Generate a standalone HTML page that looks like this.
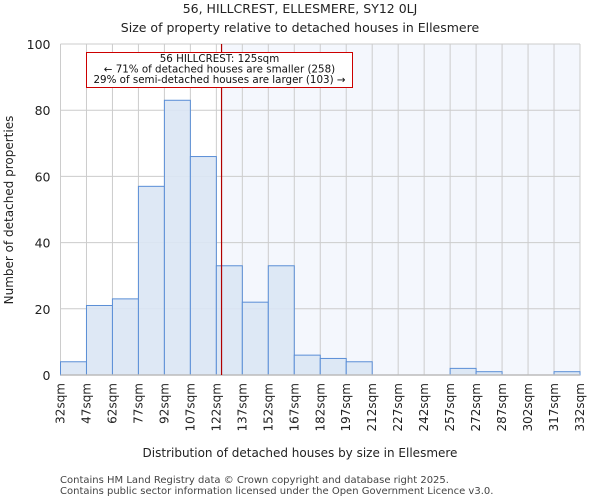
<!DOCTYPE html>
<html><head><meta charset="utf-8"><style>
body{margin:0;background:#fff;font-family:"DejaVu Sans","Liberation Sans",sans-serif;}
</style></head><body>
<svg id="chart" width="600" height="500" xmlns="http://www.w3.org/2000/svg" font-family="DejaVu Sans, Liberation Sans, sans-serif">
<text x="300" y="13" text-anchor="middle" font-size="12.5" fill="#222">56, HILLCREST, ELLESMERE, SY12 0LJ</text>
<text x="300" y="32" text-anchor="middle" font-size="12.5" fill="#222">Size of property relative to detached houses in Ellesmere</text>
<g id="plot"></g>
<text x="300" y="457" text-anchor="middle" font-size="12" fill="#222">Distribution of detached houses by size in Ellesmere</text>
<text transform="translate(13,210) rotate(-90)" text-anchor="middle" font-size="12" fill="#222">Number of detached properties</text>
<text x="60" y="483" font-size="10" fill="#444">Contains HM Land Registry data © Crown copyright and database right 2025.</text>
<text x="60" y="494" font-size="10" fill="#444">Contains public sector information licensed under the Open Government Licence v3.0.</text>
</svg>
<script>
const binStarts=[32,47,62,77,92,107,122,137,152,167,182,197,212,227,242,257,272,287,302,317];
const counts=[4,21,23,57,83,66,33,22,33,6,5,4,0,0,0,2,1,0,0,1];
const xTickLabels=["32sqm","47sqm","62sqm","77sqm","92sqm","107sqm","122sqm","137sqm","152sqm","167sqm","182sqm","197sqm","212sqm","227sqm","242sqm","257sqm","272sqm","287sqm","302sqm","317sqm","332sqm"];
const xTickValues=[32,47,62,77,92,107,122,137,152,167,182,197,212,227,242,257,272,287,302,317,332];
const yTicks=[0,20,40,60,80,100];
const propertySize=125;
const binWidth=15;
const L=60.5,R=580,T=44,B=375;
const xMin=32,xMax=332,yMax=100;
const xs=v=>L+(v-xMin)/(xMax-xMin)*(R-L);
const ys=v=>B-v/yMax*(B-T);
const NS="http://www.w3.org/2000/svg";
const g=document.getElementById('plot');
function mk(t,a){const e=document.createElementNS(NS,t);for(const k in a)e.setAttribute(k,a[k]);g.appendChild(e);return e;}
const bg=mk('rect',{x:xs(propertySize),y:T,width:R-xs(propertySize),height:B-T,fill:'#f4f7fd'});


xTickValues.forEach((v,i)=>{
 const l=mk('line',{x1:xs(v),x2:xs(v),y1:T,y2:B,stroke:'#cccccc','stroke-width':1});
 
 
 const t=mk('text',{transform:`translate(${xs(v)+4},${B+8}) rotate(-90)`,'text-anchor':'end','font-size':12,fill:'#222'});
 t.textContent=xTickLabels[i];
 
 
});
yTicks.forEach(v=>{
 const l=mk('line',{x1:L,x2:R,y1:ys(v),y2:ys(v),stroke:'#cccccc','stroke-width':1});
 
 
 const t=mk('text',{x:L-10,y:ys(v)+5,'text-anchor':'end','font-size':12.5,fill:'#222'});
 t.textContent=v;
 
 
});
binStarts.forEach((s,i)=>{
 if(counts[i]<=0)return;
 const r=mk('rect',{x:xs(s),y:ys(counts[i]),width:xs(s+binWidth)-xs(s),height:B-ys(counts[i]),fill:'#dae5f4','fill-opacity':0.9,stroke:'#5a8ed6','stroke-width':1});
 
 
});
const ax=mk('line',{x1:L,x2:R,y1:B,y2:B,stroke:'#bbbbbb','stroke-width':1.5});


const pl=mk('line',{x1:xs(propertySize),x2:xs(propertySize),y1:T,y2:B,stroke:'#b00000','stroke-width':1.2});


const box=mk('rect',{x:86.5,y:52.5,width:266,height:35,fill:'#fff',stroke:'#cc0000','stroke-width':1});


const lines=["56 HILLCREST: 125sqm","← 71% of detached houses are smaller (258)","29% of semi-detached houses are larger (103) →"];
lines.forEach((s,i)=>{
 const t=mk('text',{x:219.5,y:62+i*10.5,'text-anchor':'middle','font-size':10.3,fill:'#111'});
 t.textContent=s;
 
 
});
</script>
</body></html>
